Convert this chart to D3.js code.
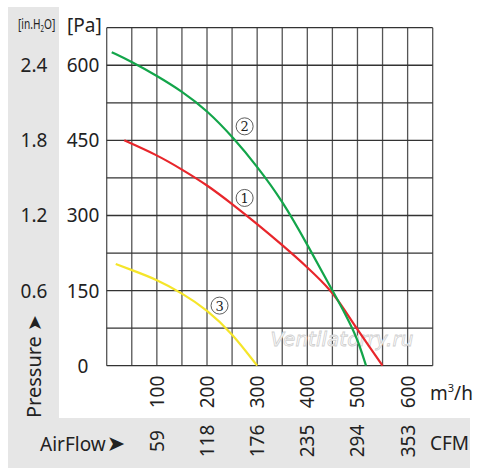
<!DOCTYPE html>
<html>
<head>
<meta charset="utf-8">
<script src="https://cdn.jsdelivr.net/npm/d3@7"></script>
<style>
  body { margin: 0; background: #fff; }
  svg text { font-family: "Noto Sans", sans-serif; fill: #222; }
</style>
</head>
<body>
<svg id="chart" width="483" height="475"></svg>
<script>
// flow in m3/h, pressure in Pa
var flowTicks = [100, 200, 300, 400, 500, 600];
var cfmTicks = ["59", "118", "176", "235", "294", "353"];
var paTicks = [0, 150, 300, 450, 600];
var inH2OTicks = ["", "0.6", "1.2", "1.8", "2.4"];

var flow1 = [35, 100, 150, 200, 250, 300, 350, 400, 450, 475, 500, 525, 550];
var pa1   = [450, 421, 392, 361, 323, 283, 241, 197, 148, 110, 72, 36, 0];

var flow2 = [10, 50, 100, 150, 200, 253, 300, 350, 400, 450, 477, 500, 517];
var pa2   = [626, 607, 579, 548, 510, 455, 398, 330, 242, 150, 101, 54, 0];

var flow3 = [18, 50, 100, 150, 200, 250, 300];
var pa3   = [203, 191, 172, 145, 112, 65, 0];

var curveNames = ["1", "2", "3"];
var labelFlow = [275, 275, 225];
var labelPa = [335, 478, 120];

var svg = d3.select("#chart");

var x = d3.scaleLinear().domain([0, 650]).range([106.7, 432.7]);
var y = d3.scaleLinear().domain([0, 675]).range([365.7, 27.7]);

// grey side panels
svg.append("rect").attr("x", 8).attr("y", 7).attr("width", 51).attr("height", 411).attr("fill", "#e6e6e6");
svg.append("rect").attr("x", 8).attr("y", 418).attr("width", 462).attr("height", 50).attr("fill", "#e6e6e6");

// grid
var grid = svg.append("g");
grid.selectAll("line.v")
    .data(d3.range(0, 651, 50))
    .enter().append("line")
    .attr("x1", function(d) { return x(d); })
    .attr("x2", function(d) { return x(d); })
    .attr("y1", y(0)).attr("y2", y(675))
    .attr("stroke", "#555").attr("stroke-width", 1.3);
grid.selectAll("line.h")
    .data(d3.range(0, 676, 75))
    .enter().append("line")
    .attr("y1", function(d) { return y(d); })
    .attr("y2", function(d) { return y(d); })
    .attr("x1", x(0)).attr("x2", x(650))
    .attr("stroke", "#333").attr("stroke-width", 1.3);

// watermark
svg.append("text")
    .attr("x", 342).attr("y", 346)
    .attr("text-anchor", "middle")
    .style("font-family", "DejaVu Sans")
    .style("font-style", "italic")
    .style("font-size", "20px")
    .style("fill", "#fff")
    .style("stroke", "#cfcfcf")
    .style("stroke-width", 0.8)
    .text("Ventilatorry.ru");

// curves
var line = d3.line()
    .x(function(d) { return x(d[0]); })
    .y(function(d) { return y(d[1]); })
    .curve(d3.curveBasis);

var series = [
  { f: flow1, p: pa1, c: "#e8262b" },
  { f: flow2, p: pa2, c: "#13a54a" },
  { f: flow3, p: pa3, c: "#f5e52a" }
];
series.forEach(function(s) {
  svg.append("path")
     .datum(d3.zip(s.f, s.p))
     .attr("d", line)
     .attr("fill", "none")
     .attr("stroke", s.c)
     .attr("stroke-width", 2.2);
});

// circled curve numbers
curveNames.forEach(function(n, i) {
  var cx = x(labelFlow[i]), cy = y(labelPa[i]);
  svg.append("circle").attr("cx", cx).attr("cy", cy).attr("r", 8.5)
     .attr("fill", "#fff").attr("stroke", "#333").attr("stroke-width", 0.8);
  svg.append("text").attr("x", cx).attr("y", cy + 5)
     .attr("text-anchor", "middle")
     .style("font-family", "DejaVu Serif").style("font-size", "13px")
     .text(n);
});

// y labels
svg.selectAll("text.pa")
    .data(paTicks)
    .enter().append("text")
    .attr("x", 83).attr("y", function(d) { return y(d) + 7; })
    .attr("text-anchor", "middle")
    .style("font-size", "19px")
    .text(function(d) { return d; });
svg.selectAll("text.inh")
    .data(paTicks)
    .enter().append("text")
    .attr("x", 34).attr("y", function(d) { return y(d) + 7; })
    .attr("text-anchor", "middle")
    .style("font-size", "19px")
    .text(function(d, i) { return inH2OTicks[i]; });

// x labels, rotated
svg.selectAll("text.fl")
    .data(flowTicks)
    .enter().append("text")
    .attr("transform", function(d) { return "translate(" + (x(d) + 7) + ",392) rotate(-90)"; })
    .attr("text-anchor", "middle")
    .style("font-size", "19px")
    .text(function(d) { return d; });
svg.selectAll("text.cfm")
    .data(flowTicks)
    .enter().append("text")
    .attr("transform", function(d) { return "translate(" + (x(d) + 7) + ",441) rotate(-90)"; })
    .attr("text-anchor", "middle")
    .style("font-size", "19px")
    .text(function(d, i) { return cfmTicks[i]; });

// units
var u = svg.append("text").attr("transform", "translate(18,29) scale(0.68,1)")
    .style("font-size", "15px");
u.append("tspan").text("[in.H");
u.append("tspan").attr("dy", 3).style("font-size", "9px").text("2");
u.append("tspan").attr("dy", -3).text("O]");

svg.append("text").attr("x", 67).attr("y", 32).style("font-size", "19px").text("[Pa]");

var m = svg.append("text").attr("x", 430).attr("y", 400).style("font-size", "19px");
m.append("tspan").text("m");
m.append("tspan").attr("dy", -8).style("font-size", "11px").text("3");
m.append("tspan").attr("dy", 8).text("/h");

svg.append("text").attr("x", 430).attr("y", 450).style("font-size", "19px").text("CFM");

var af = svg.append("text").attr("x", 40).attr("y", 451).style("font-size", "19px");
af.append("tspan").text("AirFlow");
af.append("tspan").attr("dx", 1).style("font-family", "DejaVu Sans").style("font-size", "22px").text("➤");

var pr = svg.append("text").attr("transform", "translate(41,418) rotate(-90)").style("font-size", "20px");
pr.append("tspan").text("Pressure");
pr.append("tspan").attr("dx", 5).style("font-family", "DejaVu Sans").style("font-size", "19px").text("➤");
</script>
</body>
</html>
